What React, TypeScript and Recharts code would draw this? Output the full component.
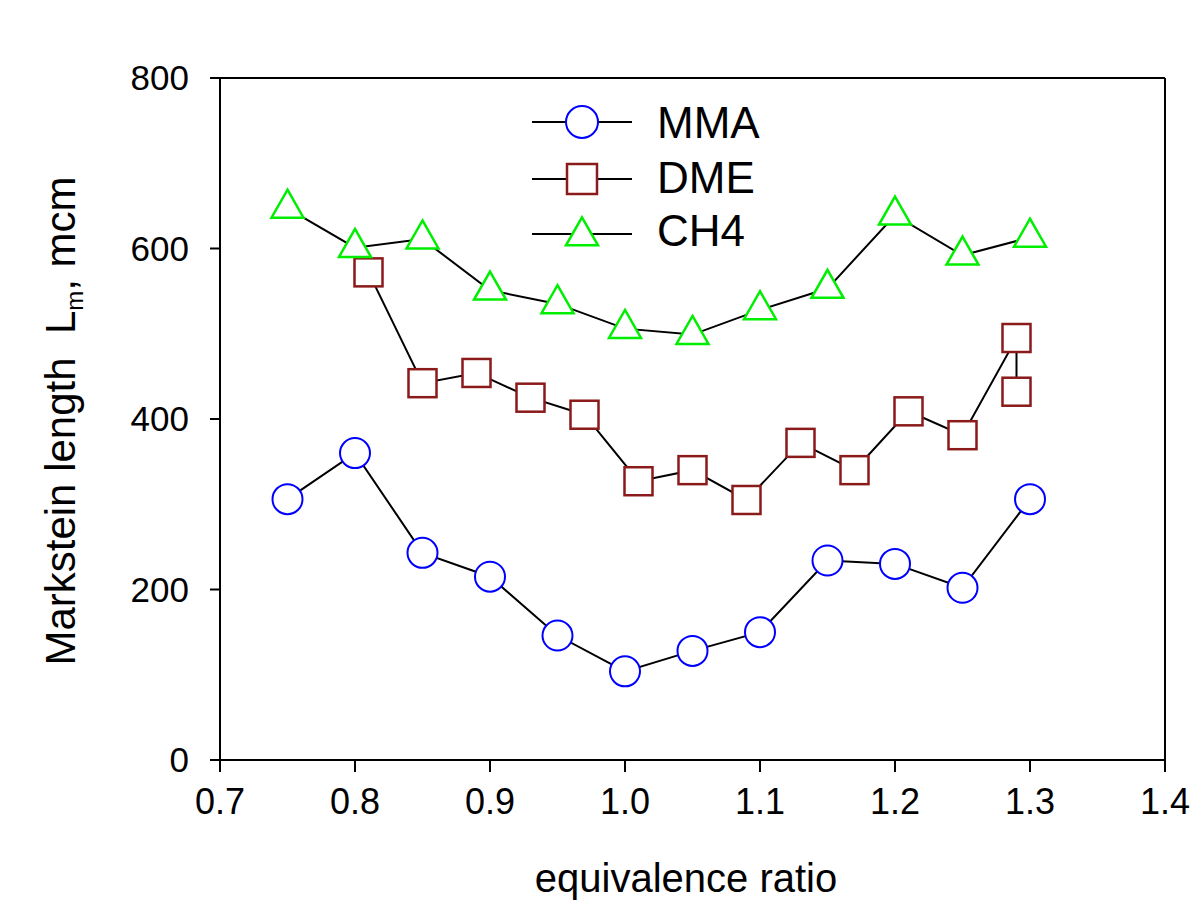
import React from 'react';
import {
  LineChart,
  Line,
  XAxis,
  YAxis,
  ReferenceLine,
  Legend,
} from 'recharts';

const FONT = '"Liberation Sans", Arial, sans-serif';

// equivalence ratio (phi) and Markstein length values
const mmaPhi = [0.75, 0.8, 0.85, 0.9, 0.95, 1.0, 1.05, 1.1, 1.15, 1.2, 1.25, 1.3];
const mmaLm = [306, 360, 243, 215, 146, 104, 128, 150, 234, 230, 202, 306];

const dmePhi = [0.81, 0.85, 0.89, 0.93, 0.97, 1.01, 1.05, 1.09, 1.13, 1.17, 1.21, 1.25, 1.29, 1.29];
const dmeLm = [572, 442, 454, 425, 405, 327, 340, 305, 372, 340, 409, 381, 495, 432];

const ch4Phi = [0.75, 0.8, 0.85, 0.9, 0.95, 1.0, 1.05, 1.1, 1.15, 1.2, 1.25, 1.3];
const ch4Lm = [647, 601, 611, 551, 535, 506, 499, 528, 553, 639, 592, 613];

const xTicks = [0.7, 0.8, 0.9, 1.0, 1.1, 1.2, 1.3, 1.4];
const yTicks = [0, 200, 400, 600, 800];

const toRows = (phi: number[], lm: number[]) => phi.map((p, i) => ({ phi: p, lm: lm[i] }));

const mmaData = toRows(mmaPhi, mmaLm);
const dmeData = toRows(dmePhi, dmeLm);
const ch4Data = toRows(ch4Phi, ch4Lm);

const BLUE = '#0000ff';
const RED = '#8b1a1a';
const GREEN = '#00ee00';

const circleDot = (props: any) => (
  <circle key={`c-${props.index}`} cx={props.cx} cy={props.cy} r={15} fill="#fff" stroke={BLUE} strokeWidth={2} />
);

const squareDot = (props: any) => (
  <rect key={`s-${props.index}`} x={props.cx - 14} y={props.cy - 14} width={28} height={28} fill="#fff" stroke={RED} strokeWidth={2.5} />
);

const triPath = (cx: number, cy: number) =>
  `M${cx},${cy - 18.7} L${cx + 16},${cy + 9.3} L${cx - 16},${cy + 9.3} Z`;

const triangleDot = (props: any) => (
  <path key={`t-${props.index}`} d={triPath(props.cx, props.cy)} fill="#fff" stroke={GREEN} strokeWidth={2.5} />
);

const LegendBox = () => (
  <svg width={280} height={180} style={{ display: 'block' }}>
    <g fontFamily={FONT} fontSize={44} fill="#000">
      <line x1={32} y1={32} x2={132} y2={32} stroke="#000" strokeWidth={2} />
      <circle cx={82} cy={32} r={16} fill="#fff" stroke={BLUE} strokeWidth={2} />
      <text x={157} y={48}>MMA</text>

      <line x1={32} y1={89} x2={132} y2={89} stroke="#000" strokeWidth={2} />
      <rect x={67} y={74} width={30} height={30} fill="#fff" stroke={RED} strokeWidth={2.5} />
      <text x={157} y={103}>DME</text>

      <line x1={32} y1={144} x2={132} y2={144} stroke="#000" strokeWidth={2} />
      <path d={triPath(82, 146)} fill="#fff" stroke={GREEN} strokeWidth={2.5} />
      <text x={157} y={156}>CH4</text>
    </g>
  </svg>
);

const XTitle = () => (
  <text x={686} y={892} textAnchor="middle" fontFamily={FONT} fontSize={40} fill="#000">
    equivalence ratio
  </text>
);

const YTitle = () => (
  <text
    x={75}
    y={421}
    transform="rotate(-90, 75, 421)"
    textAnchor="middle"
    fontFamily={FONT}
    fontSize={42}
    fill="#000"
  >
    Markstein length{'\u00a0\u00a0'}L
    <tspan fontSize={24} dy={8}>m</tspan>
    <tspan dy={-8}>, mcm</tspan>
  </text>
);

export default function App() {
  return (
    <div style={{ position: 'absolute', left: 0, top: 0, width: 1191, height: 900, background: '#fff' }}>
      <LineChart width={1191} height={900} margin={{ top: 78, right: 26, bottom: 0, left: 0 }}>
        <XAxis
          dataKey="phi"
          type="number"
          domain={[0.7, 1.4]}
          ticks={xTicks}
          allowDataOverflow
          tickFormatter={(v: number) => v.toFixed(1)}
          height={140}
          tickSize={12}
          tickMargin={16}
          stroke="#000"
          strokeWidth={2}
          tick={{ fill: '#000', fontSize: 36, fontFamily: FONT }}
          label={<XTitle />}
        />
        <YAxis
          dataKey="lm"
          type="number"
          domain={[0, 800]}
          ticks={yTicks}
          allowDataOverflow
          width={220}
          tickSize={10}
          tickMargin={21}
          stroke="#000"
          strokeWidth={2}
          tick={{ fill: '#000', fontSize: 35, fontFamily: FONT }}
          label={<YTitle />}
        />
        <ReferenceLine y={800} stroke="#000" strokeWidth={2} />
        <ReferenceLine x={1.4} stroke="#000" strokeWidth={2} />
        <Line data={mmaData} dataKey="lm" name="MMA" stroke="#000" strokeWidth={2} dot={circleDot} isAnimationActive={false} />
        <Line data={dmeData} dataKey="lm" name="DME" stroke="#000" strokeWidth={2} dot={squareDot} isAnimationActive={false} />
        <Line data={ch4Data} dataKey="lm" name="CH4" stroke="#000" strokeWidth={2} dot={triangleDot} isAnimationActive={false} />
        <Legend
          layout="horizontal"
          verticalAlign="middle"
          align="center"
          content={() => <LegendBox />}
          wrapperStyle={{ position: 'absolute', left: 500, top: 90, width: 280, height: 180 }}
        />
      </LineChart>
    </div>
  );
}
